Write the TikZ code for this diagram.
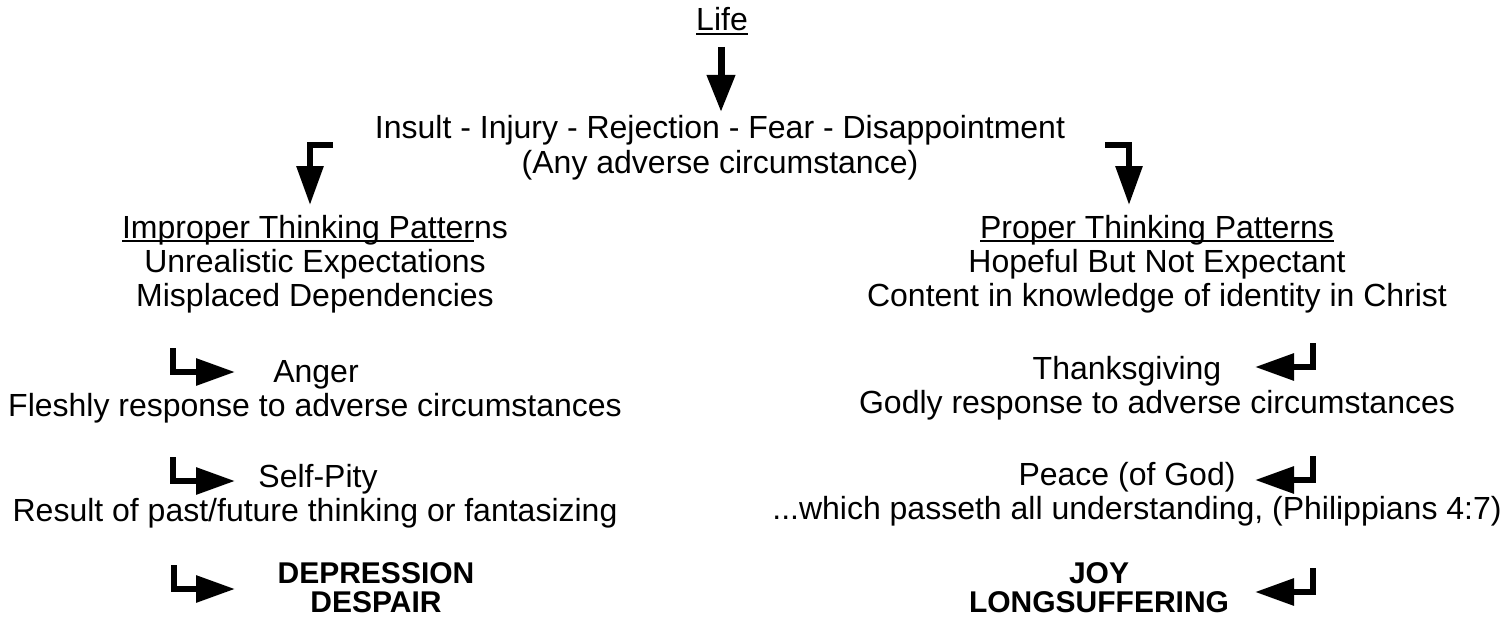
\documentclass[tikz,border=0pt]{standalone}
\usepackage{fontspec}
\setmainfont{Liberation Sans}
\usetikzlibrary{arrows.meta}
\newcommand\myul[1]{\setbox0\hbox{#1}\rlap{\rule[-4pt]{\wd0}{2pt}}\box0}
\tikzset{
  x=1pt,y=-1pt,
  txt/.style={inner sep=0pt, anchor=base, font=\fontsize{32}{34}\selectfont},
  btxt/.style={inner sep=0pt, anchor=base, font=\fontsize{30}{34}\selectfont\bfseries},
  bigarrow/.style={line width=7pt, -{Triangle[length=37pt,width=27pt]}},
  bentarrow/.style={line width=6pt, line join=miter, -{Triangle[length=39pt,width=26pt]}},
}
\begin{document}
\begin{tikzpicture}
\useasboundingbox[fill=white] (0,0) rectangle (1509,623);
% top
\node[txt] (life) at (722,31) {\myul{Life}};
\node[txt] (insult) at (720,139) {Insult - Injury - Rejection - Fear - Disappointment};
\node[txt] (any) at (720,173) {(Any adverse circumstance)};
% left column
\node[txt] (improper) at (315,238) {\myul{Improper Thinking Patter}ns};
\node[txt] (unreal) at (315,272) {Unrealistic Expectations};
\node[txt] (misplaced) at (315,306) {Misplaced Dependencies};
\node[txt] (anger) at (316,382) {Anger};
\node[txt] (fleshly) at (315,416) {Fleshly response to adverse circumstances};
\node[txt] (selfpity) at (318,487) {Self-Pity};
\node[txt] (result) at (315,521) {Result of past/future thinking or fantasizing};
\node[btxt] (depression) at (376,583) {DEPRESSION};
\node[btxt] (despair) at (376,612) {DESPAIR};
% right column
\node[txt] (proper) at (1157,238) {\myul{Proper Thinking Patterns}};
\node[txt] (hopeful) at (1157,272) {Hopeful But Not Expectant};
\node[txt] (content) at (1157,306) {Content in knowledge of identity in Christ};
\node[txt] (thanks) at (1127,379) {Thanksgiving};
\node[txt] (godly) at (1157,413) {Godly response to adverse circumstances};
\node[txt] (peace) at (1127,485) {Peace (of God)};
\node[txt] (passeth) at (1137,519) {...which passeth all understanding, (Philippians 4:7)};
\node[btxt] (joy) at (1099,583) {JOY};
\node[btxt] (long) at (1099,612) {LONGSUFFERING};
% arrow coordinates
\coordinate (a0s) at (721,47); \coordinate (a0e) at (721,112);
\coordinate (l1s) at (333,145); \coordinate (l1c) at (310,145); \coordinate (l1e) at (310,205);
\coordinate (r1s) at (1105,145); \coordinate (r1c) at (1129,145); \coordinate (r1e) at (1129,205);
\coordinate (l2s) at (173,348); \coordinate (l2c) at (173,372); \coordinate (l2e) at (235,372);
\coordinate (l3s) at (173,457); \coordinate (l3c) at (173,481); \coordinate (l3e) at (235,481);
\coordinate (l4s) at (174,565); \coordinate (l4c) at (174,589); \coordinate (l4e) at (235,589);
\coordinate (r2s) at (1313,343); \coordinate (r2c) at (1313,367); \coordinate (r2e) at (1255,367);
\coordinate (r3s) at (1313,456); \coordinate (r3c) at (1313,480); \coordinate (r3e) at (1255,480);
\coordinate (r4s) at (1313,568); \coordinate (r4c) at (1313,592); \coordinate (r4e) at (1255,592);
\draw[bigarrow] (a0s) -- (a0e);
\draw[bentarrow] (l1s) -- (l1c) -- (l1e);
\draw[bentarrow] (r1s) -- (r1c) -- (r1e);
\draw[bentarrow] (l2s) -- (l2c) -- (l2e);
\draw[bentarrow] (l3s) -- (l3c) -- (l3e);
\draw[bentarrow] (l4s) -- (l4c) -- (l4e);
\draw[bentarrow] (r2s) -- (r2c) -- (r2e);
\draw[bentarrow] (r3s) -- (r3c) -- (r3e);
\draw[bentarrow] (r4s) -- (r4c) -- (r4e);
\end{tikzpicture}
\end{document}
